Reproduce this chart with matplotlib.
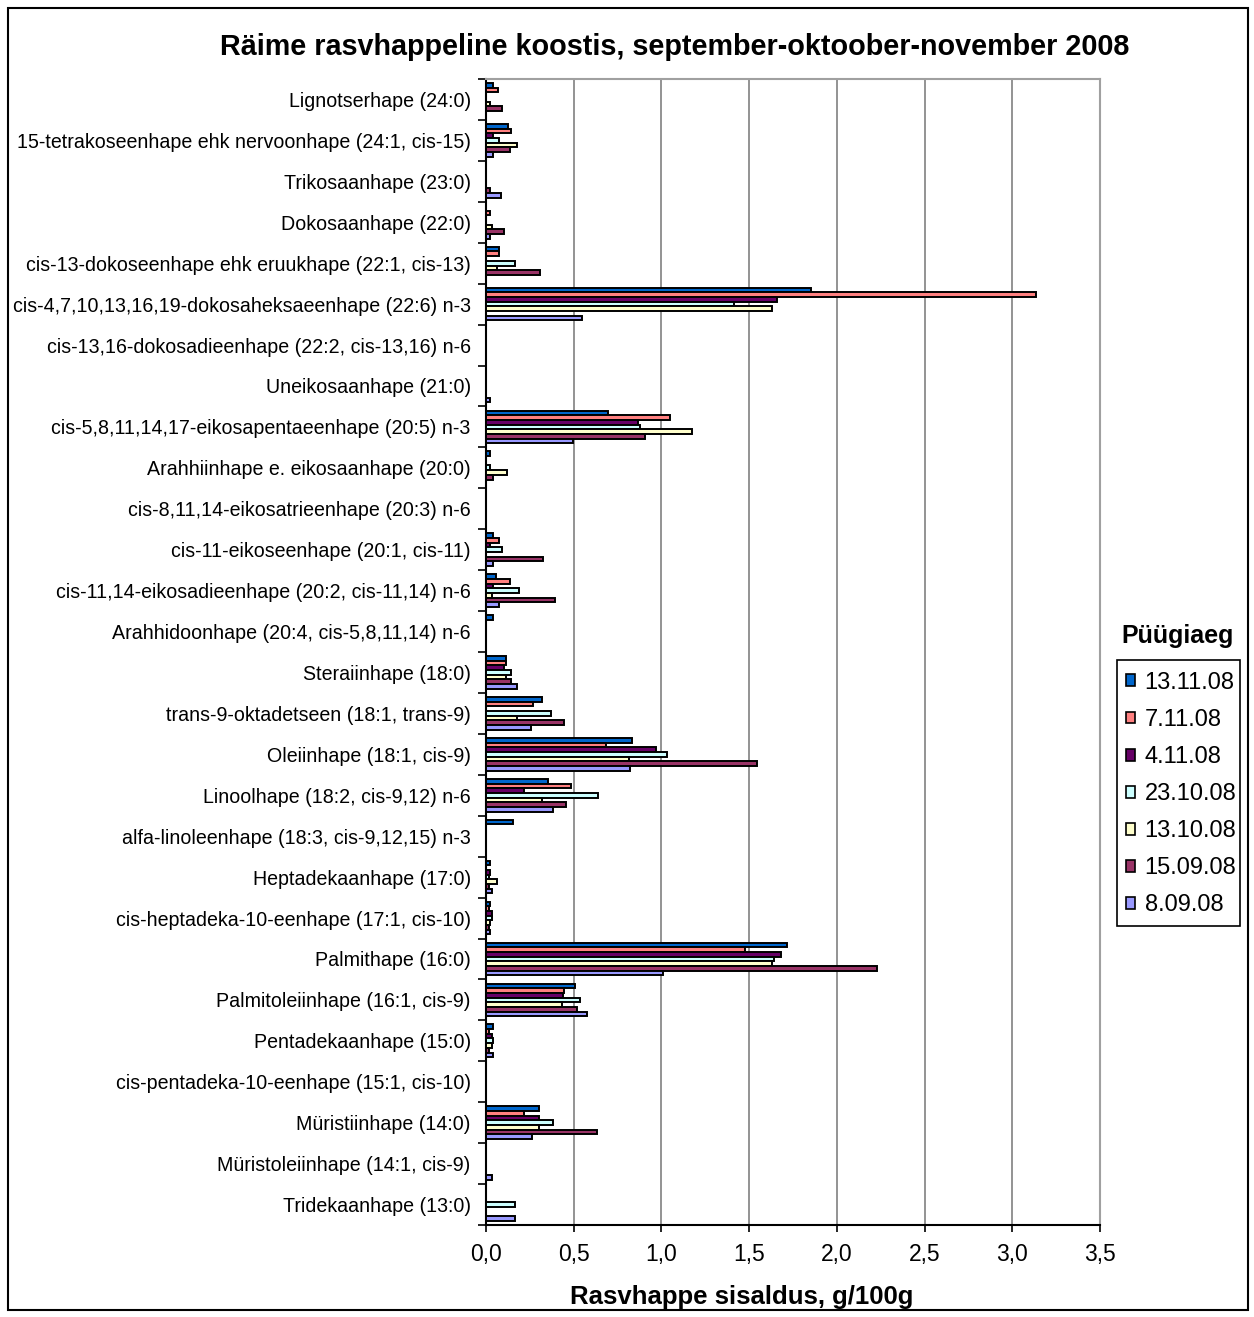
import matplotlib
matplotlib.use("Agg")
import matplotlib.pyplot as plt
import numpy as np
from matplotlib.patches import Rectangle, Patch

categories = [
    "Lignotserhape (24:0)",
    "15-tetrakoseenhape ehk nervoonhape (24:1, cis-15)",
    "Trikosaanhape (23:0)",
    "Dokosaanhape (22:0)",
    "cis-13-dokoseenhape ehk eruukhape (22:1, cis-13)",
    "cis-4,7,10,13,16,19-dokosaheksaeenhape (22:6) n-3",
    "cis-13,16-dokosadieenhape (22:2, cis-13,16) n-6",
    "Uneikosaanhape (21:0)",
    "cis-5,8,11,14,17-eikosapentaeenhape (20:5) n-3",
    "Arahhiinhape e. eikosaanhape (20:0)",
    "cis-8,11,14-eikosatrieenhape (20:3) n-6",
    "cis-11-eikoseenhape (20:1, cis-11)",
    "cis-11,14-eikosadieenhape (20:2, cis-11,14) n-6",
    "Arahhidoonhape (20:4, cis-5,8,11,14) n-6",
    "Steraiinhape (18:0)",
    "trans-9-oktadetseen (18:1, trans-9)",
    "Oleiinhape (18:1, cis-9)",
    "Linoolhape (18:2, cis-9,12) n-6",
    "alfa-linoleenhape (18:3, cis-9,12,15) n-3",
    "Heptadekaanhape (17:0)",
    "cis-heptadeka-10-eenhape (17:1, cis-10)",
    "Palmithape (16:0)",
    "Palmitoleiinhape (16:1, cis-9)",
    "Pentadekaanhape (15:0)",
    "cis-pentadeka-10-eenhape (15:1, cis-10)",
    "Müristiinhape (14:0)",
    "Müristoleiinhape (14:1, cis-9)",
    "Tridekaanhape (13:0)",
]

series_names = ["13.11.08", "7.11.08", "4.11.08", "23.10.08", "13.10.08", "15.09.08", "8.09.08"]
series_colors = ["#0066CC", "#FF8080", "#660066", "#CCFFFF", "#FFFFCC", "#993366", "#9999FF"]

s_13_11 = [0.04, 0.124, 0, 0, 0.074, 1.855, 0, 0, 0.694, 0.023, 0, 0.042, 0.055, 0.042,
           0.114, 0.321, 0.835, 0.352, 0.156, 0.023, 0.023, 1.713, 0.508, 0.042, 0, 0.302, 0, 0]
s_7_11 = [0.07, 0.143, 0, 0.023, 0.074, 3.134, 0, 0, 1.051, 0, 0, 0.074, 0.137, 0,
          0.114, 0.266, 0.683, 0.485, 0, 0, 0.017, 1.475, 0.445, 0.019, 0, 0.219, 0, 0]
s_4_11 = [0, 0.042, 0, 0, 0, 1.661, 0, 0, 0.867, 0, 0, 0.023, 0.042, 0,
          0.103, 0, 0.967, 0.219, 0, 0.021, 0.032, 1.68, 0.441, 0.032, 0, 0.302, 0, 0]
s_23_10 = [0, 0.074, 0, 0, 0.165, 1.412, 0, 0, 0.876, 0.023, 0, 0.093, 0.19, 0,
           0.143, 0.371, 1.032, 0.641, 0, 0.019, 0.032, 1.64, 0.536, 0.042, 0, 0.384, 0, 0.165]
s_13_10 = [0.02, 0.177, 0, 0.032, 0.061, 1.629, 0, 0, 1.177, 0.118, 0, 0, 0.032, 0,
           0.114, 0.175, 0.816, 0.319, 0, 0.061, 0.021, 1.629, 0.433, 0.032, 0, 0.30, 0, 0]
s_15_09 = [0.09, 0.137, 0.023, 0.105, 0.31, 0, 0, 0, 0.909, 0.042, 0, 0.323, 0.395, 0,
           0.143, 0.445, 1.545, 0.454, 0, 0.019, 0.019, 2.226, 0.517, 0.019, 0, 0.631, 0, 0]
s_8_09 = [0, 0.042, 0.086, 0.021, 0, 0.546, 0, 0.023, 0.498, 0, 0, 0.042, 0.074, 0,
          0.175, 0.257, 0.823, 0.38, 0, 0.032, 0.023, 1.011, 0.578, 0.042, 0, 0.26, 0.032, 0.165]

series_values = [s_13_11, s_7_11, s_4_11, s_23_10, s_13_10, s_15_09, s_8_09]

x_ticks = [0.0, 0.5, 1.0, 1.5, 2.0, 2.5, 3.0, 3.5]
x_tick_labels = ["0,0", "0,5", "1,0", "1,5", "2,0", "2,5", "3,0", "3,5"]

plt.rcParams["font.family"] = ["Liberation Sans", "DejaVu Sans"]

W, H = 1254, 1317
fig = plt.figure(figsize=(W / 100, H / 100), dpi=100)
ax = fig.add_axes([486 / W, 1 - 1225 / H, (1100 - 486) / W, (1225 - 79) / H])

n = len(categories)
k = len(series_names)
group = 0.8
bh = group / k
idx = np.arange(n)
for j, (vals, col) in enumerate(zip(series_values, series_colors)):
    y = idx - group / 2 + (j + 0.5) * bh
    ax.barh(y, vals, height=bh, color=col, edgecolor="black", linewidth=1.4, zorder=3)

ax.set_xlim(0, 3.5)
ax.set_ylim(n - 0.5, -0.5)
ax.set_xticks(x_ticks)
ax.set_xticklabels(x_tick_labels, fontsize=16.5)
ax.set_yticks(idx)
ax.set_yticklabels(categories, fontsize=14.1)
ax.tick_params(axis="y", which="major", length=0, pad=11)
ax.set_yticks(np.arange(n + 1) - 0.5, minor=True)
ax.tick_params(axis="y", which="minor", length=6, width=1.2, direction="out")
ax.tick_params(axis="x", which="major", length=5, width=1.2, direction="out", pad=8)
ax.grid(axis="x", color="#808080", linewidth=1.2, zorder=0)
ax.set_axisbelow(True)
for s in ["top", "right"]:
    ax.spines[s].set_color("#A0A0A0")
    ax.spines[s].set_linewidth(1.5)
for s in ["left", "bottom"]:
    ax.spines[s].set_color("black")
    ax.spines[s].set_linewidth(1.5)

ax.set_xlabel("Rasvhappe sisaldus, g/100g", fontsize=18.5, fontweight="bold")
ax.xaxis.set_label_coords((742 - 486) / (1100 - 486), -(1297 - 1225) / (1225 - 79))
ax.xaxis.label.set_va("center")
fig.text(675 / W, 1 - 47 / H, "Räime rasvhappeline koostis, september-oktoober-november 2008",
         ha="center", va="center", fontsize=20.7, fontweight="bold")

handles = [Patch(facecolor=c, edgecolor="black", linewidth=1.2) for c in series_colors]
leg = fig.legend(handles, series_names, loc="upper left",
                 bbox_to_anchor=(1114 / W, 1 - 660 / H), fontsize=17,
                 frameon=False,
                 handlelength=0.4, handleheight=0.4, handletextpad=0.4,
                 labelspacing=0.64, borderpad=0.5, borderaxespad=0)
fig.patches.append(Rectangle((1117 / W, 1 - 926 / H), (1240 - 1117) / W, (926 - 660) / H,
                             transform=fig.transFigure, fill=False,
                             edgecolor="black", linewidth=1.2))
fig.text(1178 / W, 1 - 636 / H, "Püügiaeg", ha="center", va="center",
         fontsize=18, fontweight="bold")

fig.patches.append(Rectangle((8 / W, 1 - 1310 / H), (1248 - 8) / W, (1310 - 8) / H,
                             transform=fig.transFigure, fill=False,
                             edgecolor="black", linewidth=1.5))

fig.savefig("out.png", dpi=100, facecolor="white")
